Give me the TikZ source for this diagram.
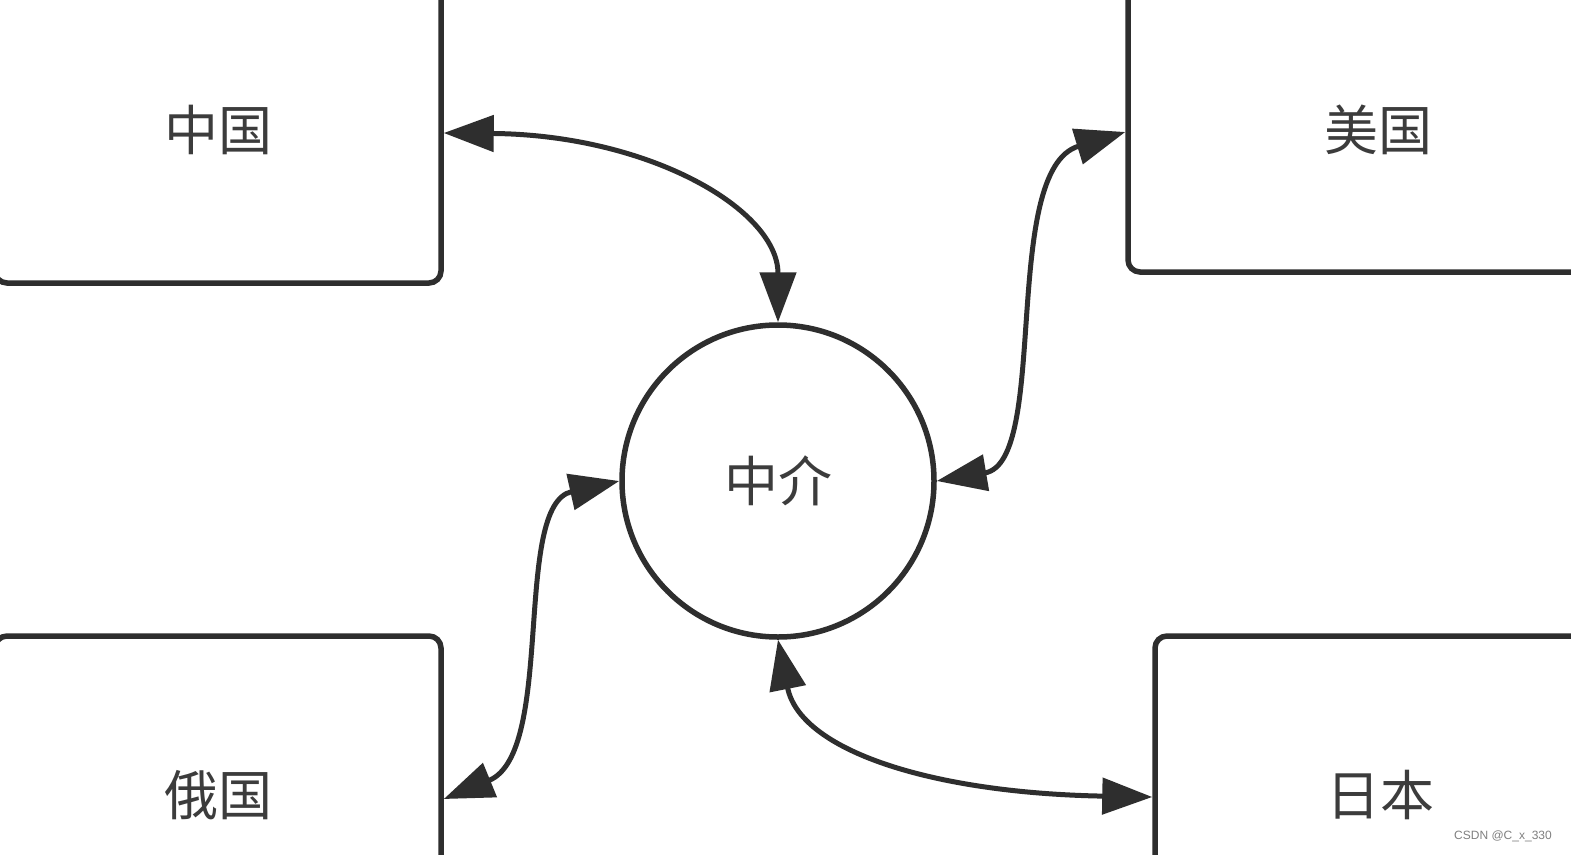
\documentclass[tikz,border=0pt]{standalone}
\usepackage{fontspec}
\setmainfont{Liberation Sans}
\newfontfamily\cjk{Noto Sans CJK SC}
\usetikzlibrary{arrows.meta}
\definecolor{ink}{HTML}{2E2E2E}
\definecolor{txt}{HTML}{3C3C3C}
\tikzset{
  box/.style={draw=ink, line width=5.5pt, rounded corners=12pt, fill=white, font=\cjk\fontsize{54}{60}\selectfont, text=txt},
  hub/.style={draw=ink, line width=5.5pt, circle, minimum size=312pt, inner sep=0pt, font=\cjk\fontsize{54}{60}\selectfont, text=txt},
  link/.style={draw=ink, line width=5pt, {Triangle[length=50pt,width=36pt]}-{Triangle[length=50pt,width=36pt]}},
}
\begin{document}
\begin{tikzpicture}[x=1pt,y=-1pt]
\useasboundingbox (0,0) rectangle (1571,854);
\fill[white] (0,0) rectangle (1571,854);
\clip (0,0) rectangle (1571,854);
\node[box, minimum width=446pt, minimum height=306pt] (china) at (218,130) {中国};
\node[box, minimum width=500pt, minimum height=284pt] (usa) at (1378,130) {美国};
\node[box, minimum width=446pt, minimum height=318pt] (russia) at (218,795) {俄国};
\node[box, minimum width=450pt, minimum height=318pt] (japan) at (1380,795) {日本};
\node[hub] (mid) at (778,481) {中介};
\draw[link] ([yshift=-3pt]china.east) .. controls (650,135) and (778,210) .. (mid.north);
\draw[link] (mid.east) .. controls (1050,462) and (1000,170) .. ([yshift=-2pt]usa.west);
\draw[link] (mid.west) .. controls (512,505) and (556,753) .. ([yshift=-4pt]russia.east);
\draw[link] (mid.south) .. controls (800,750) and (930,793) .. ([yshift=-2pt]japan.west);
\node[text=gray, font=\fontsize{12}{14}\selectfont] (mark) at (1503,836) {CSDN @C\_x\_330};
\end{tikzpicture}
\end{document}
